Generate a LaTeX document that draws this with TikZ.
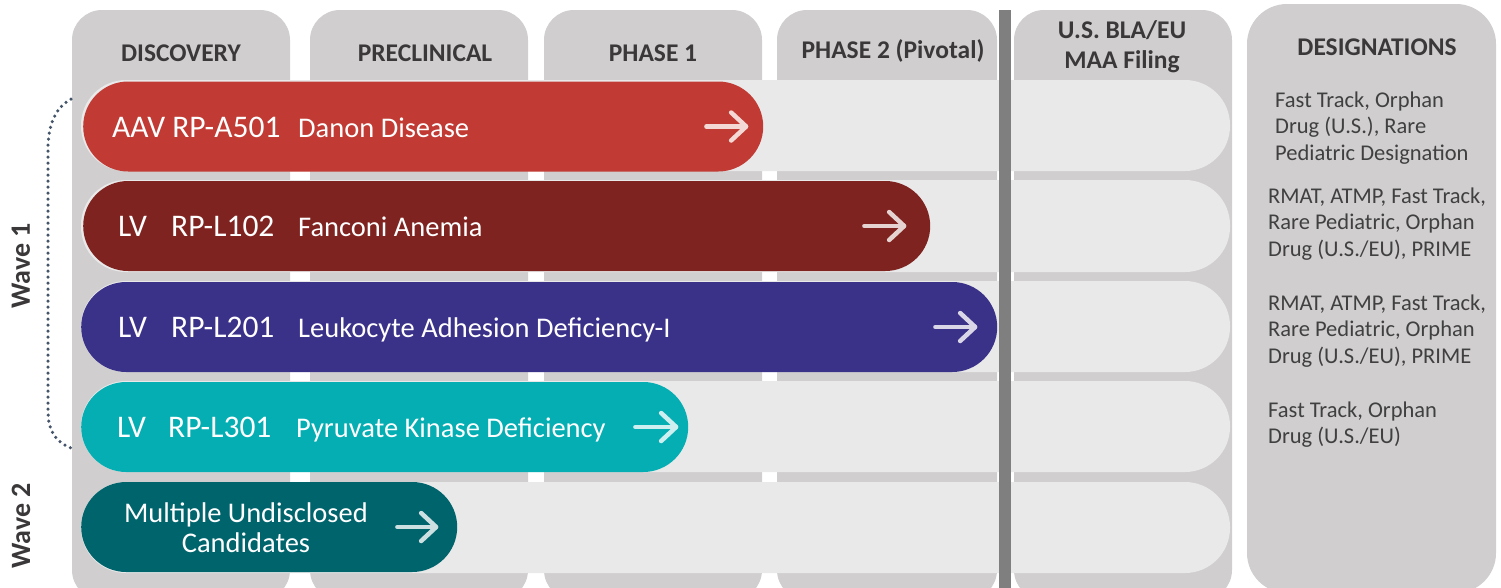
\documentclass[tikz,border=0pt]{standalone}
\usepackage{fontspec}
\setmainfont{Carlito}
\usetikzlibrary{positioning,calc,arrows.meta}

\definecolor{colgray}{HTML}{D0CECE}
\definecolor{rowgray}{HTML}{E9E9E9}
\definecolor{bargray}{HTML}{7F7F7F}
\definecolor{headtext}{HTML}{3A3838}
\definecolor{desigtext}{HTML}{404040}
\definecolor{bracketblue}{HTML}{44546A}
\definecolor{danonred}{HTML}{C13A33}
\definecolor{fanconired}{HTML}{7F2320}
\definecolor{ladblue}{HTML}{3A3189}
\definecolor{pkdteal}{HTML}{04AEB3}
\definecolor{wavetwoteal}{HTML}{00646D}

\begin{document}
\begin{tikzpicture}[x=1pt, y=-1pt,
  column/.style={fill=colgray, rounded corners=30pt},
  rowband/.style={fill=rowgray, rounded corners=45pt},
  pill/.style={rectangle, rounded corners=45pt, minimum height=90pt, inner sep=0pt, anchor=west},
  codetext/.style={text=white, inner sep=0pt, anchor=base west, font=\fontsize{31.5}{34}\selectfont},
  pilltext/.style={text=white, inner sep=0pt, anchor=base west, font=\fontsize{28.5}{30}\selectfont},
  header/.style={text=headtext, align=center, font=\bfseries\fontsize{25.5}{30}\selectfont},
  desig/.style={text=desigtext, inner sep=0pt, anchor=base west, align=left, font=\fontsize{22.5}{26.7}\selectfont},
  wave/.style={text=headtext, rotate=90, font=\bfseries\fontsize{28}{30}\selectfont},
  nextarrow/.style={draw=white!80!#1, line width=4.5pt, line cap=round,
    -{Straight Barb[length=15pt, width=28pt, round]}}]

  \useasboundingbox (0,0) rectangle (1501,587);
  \clip (0,0) rectangle (1501,587);

  % Stage columns
  \fill[column] (72,10) rectangle (290,600);
  \fill[column] (310,10) rectangle (528,600);
  \fill[column] (544,10) rectangle (762,600);
  \fill[column] (777,10) rectangle (997,600);
  \fill[column] (1014,10) rectangle (1232,600);
  \fill[column, rounded corners=40pt] (1247,4) rectangle (1496,593);

  % Row bands
  \fill[rowband] (81,80) rectangle (1230,171);
  \fill[rowband] (81,180) rectangle (1230,272);
  \fill[rowband] (81,281) rectangle (1230,372);
  \fill[rowband] (81,381) rectangle (1230,472);
  \fill[rowband] (81,482) rectangle (1230,573);

  % Filing divider
  \fill[bargray] (999,10) rectangle (1011,590);

  % Headers
  \node[header] (discovery) at (181,53) {DISCOVERY};
  \node[header] (preclinical) at (425,53) {PRECLINICAL};
  \node[header] (phaseone) at (653,53) {PHASE 1};
  \node[header] (phasetwo) at (893,51) {PHASE 2 (Pivotal)};
  \node[header] (filing) at (1122,47) {U.S. BLA/EU\\MAA Filing};
  \node[header] (designations) at (1377,47) {DESIGNATIONS};

  % Programs
  \node[pill, fill=danonred, minimum width=680pt] (danon) at (83,126.5) {};
  \node[pill, fill=fanconired, minimum width=847pt] (fanconi) at (83,226) {};
  \node[pill, fill=ladblue, minimum width=916pt] (lad) at (81,327) {};
  \node[pill, fill=pkdteal, minimum width=607pt] (pkd) at (81,427) {};
  \node[pill, fill=wavetwoteal, minimum width=376pt] (undisclosed) at (81,527) {};

  \node[codetext] (danoncode) at ([xshift=29pt, yshift=-10.5pt]danon.west) {AAV RP-A501};
  \node[pilltext] (danonname) at ([xshift=215pt, yshift=-10.5pt]danon.west) {Danon Disease};

  \node[codetext] (fanconivec) at ([xshift=35pt, yshift=-10.5pt]fanconi.west) {LV};
  \node[codetext] (fanconicode) at ([xshift=88pt, yshift=-10.5pt]fanconi.west) {RP-L102};
  \node[pilltext] (fanconiname) at ([xshift=215pt, yshift=-10.5pt]fanconi.west) {Fanconi Anemia};

  \node[codetext] (ladvec) at ([xshift=37pt, yshift=-10.5pt]lad.west) {LV};
  \node[codetext] (ladcode) at ([xshift=90pt, yshift=-10.5pt]lad.west) {RP-L201};
  \node[pilltext] (ladname) at ([xshift=217pt, yshift=-10.5pt]lad.west) {Leukocyte Adhesion Deficiency-I};

  \node[codetext] (pkdvec) at ([xshift=36pt, yshift=-10.5pt]pkd.west) {LV};
  \node[codetext] (pkdcode) at ([xshift=87pt, yshift=-10.5pt]pkd.west) {RP-L301};
  \node[pilltext] (pkdname) at ([xshift=215pt, yshift=-10.5pt]pkd.west) {Pyruvate Kinase Deficiency};

  \node[pilltext, anchor=center, align=center] (undisclosedname) at (246,528) {Multiple Undisclosed\\Candidates};

  % Progress arrows
  \draw[nextarrow=danonred] ([xshift=-57pt]danon.east) -- ([xshift=-15pt]danon.east);
  \draw[nextarrow=fanconired] ([xshift=-66pt]fanconi.east) -- ([xshift=-24pt]fanconi.east);
  \draw[nextarrow=ladblue] ([xshift=-62pt]lad.east) -- ([xshift=-20pt]lad.east);
  \draw[nextarrow=pkdteal] ([xshift=-53pt]pkd.east) -- ([xshift=-10pt]pkd.east);
  \draw[nextarrow=wavetwoteal] ([xshift=-60pt]undisclosed.east) -- ([xshift=-19pt]undisclosed.east);

  % Designations (anchored at the last line)
  \node[desig] (danondesig) at (1275,160.4) {Fast Track, Orphan\\Drug (U.S.), Rare\\Pediatric Designation};
  \node[desig] (fanconidesig) at (1268,256.4) {RMAT, ATMP, Fast Track,\\Rare Pediatric, Orphan\\Drug (U.S./EU), PRIME};
  \node[desig] (laddesig) at (1268,363.4) {RMAT, ATMP, Fast Track,\\Rare Pediatric, Orphan\\Drug (U.S./EU), PRIME};
  \node[desig] (pkddesig) at (1268,443.7) {Fast Track, Orphan\\Drug (U.S./EU)};

  % Waves
  \node[wave] (waveone) at (21,266) {Wave 1};
  \node[wave] (wavetwo) at (21,526) {Wave 2};
  \coordinate (wavetop) at (71,99);
  \coordinate (wavebottom) at (71,448);
  \draw[bracketblue, line width=3.5pt, line cap=round, dash pattern=on 0pt off 6pt]
    (wavetop) .. controls (55,108) and (48,125) .. (48,150) -- (48,410)
    .. controls (48,432) and (56,442) .. (wavebottom);

\end{tikzpicture}
\end{document}
